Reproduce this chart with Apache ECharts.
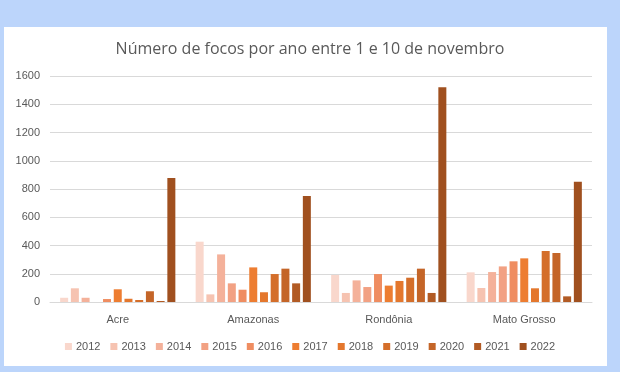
<!DOCTYPE html>
<html>
<head>
<meta charset="utf-8">
<script src="https://cdn.jsdelivr.net/npm/echarts@6/dist/echarts.min.js"></script>
<style>
html,body{margin:0;padding:0;background:#bcd5fb;}
#frame{position:absolute;left:4px;top:27px;width:603px;height:339px;background:#fff;}
#chart{position:absolute;left:0;top:0;width:620px;height:372px;}
</style>
</head>
<body>
<div id="frame"></div>
<div id="chart"></div>
<script>
const categories = ['Acre', 'Amazonas', 'Rondônia', 'Mato Grosso'];
const years = ['2012','2013','2014','2015','2016','2017','2018','2019','2020','2021','2022'];
const v2012 = [30, 427, 191, 210];
const v2013 = [97, 54, 64, 99];
const v2014 = [30, 337, 153, 212];
const v2015 = [0, 132, 106, 252];
const v2016 = [21, 87, 198, 288];
const v2017 = [90, 245, 116, 309];
const v2018 = [23, 69, 149, 97];
const v2019 = [14, 198, 172, 361];
const v2020 = [76, 236, 236, 347];
const v2021 = [7, 132, 64, 40];
const v2022 = [878, 750, 1520, 852];
const values = [v2012, v2013, v2014, v2015, v2016, v2017, v2018, v2019, v2020, v2021, v2022];
const colors = ['#f9d7cc','#f6c3b1','#f4b19a','#f2a183','#ef8d61','#ed7d31','#e4772d','#d46e2a','#c46528','#b25b24','#a0501f'];
const yTicks = [0, 200, 400, 600, 800, 1000, 1200, 1400, 1600];

const chart = echarts.init(document.getElementById('chart'));
chart.setOption({
  backgroundColor: 'transparent',
  animation: false,
  title: {
    text: 'Número de focos por ano entre 1 e 10 de novembro',
    left: 'center',
    top: 36,
    textStyle: { fontFamily: 'Open Sans', fontSize: 16, fontWeight: 'normal', color: '#595959' }
  },
  legend: {
    data: years,
    bottom: 15,
    left: 'center',
    itemWidth: 7,
    itemHeight: 7,
    itemGap: 10,
    icon: 'rect',
    textStyle: { fontFamily: 'Liberation Sans', fontSize: 11, color: '#595959', padding: [0,0,0,-1] }
  },
  grid: { left: 50, right: 28, top: 76, bottom: 70 },
  xAxis: {
    type: 'category',
    data: categories,
    axisLine: { lineStyle: { color: '#d9d9d9' } },
    axisTick: { show: false },
    axisLabel: { fontFamily: 'Liberation Sans', fontSize: 11, color: '#595959', margin: 12 }
  },
  yAxis: {
    type: 'value',
    min: yTicks[0],
    max: yTicks[yTicks.length - 1],
    interval: 200,
    axisLine: { show: false },
    axisTick: { show: false },
    splitLine: { lineStyle: { color: '#d9d9d9' } },
    axisLabel: { fontFamily: 'Liberation Sans', fontSize: 11, color: '#595959', margin: 10, formatter: (v) => String(v) }
  },
  series: years.map((y, i) => ({
    name: y,
    type: 'bar',
    data: values[i],
    barWidth: 8,
    barGap: '34%',
    itemStyle: { color: colors[i] }
  }))
});
</script>
</body>
</html>
